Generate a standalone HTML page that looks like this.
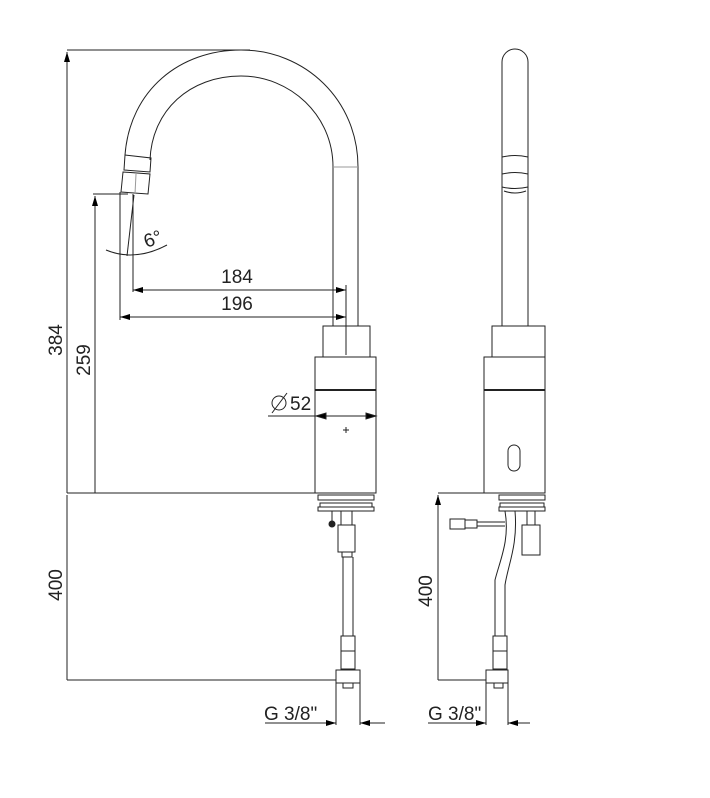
<!DOCTYPE html>
<html><head><style>
html,body{margin:0;padding:0;background:#fff;width:710px;height:798px;overflow:hidden}
text{font-family:"Liberation Sans",sans-serif;fill:#222}
</style></head><body>
<svg width="710" height="798" viewBox="0 0 710 798" xmlns="http://www.w3.org/2000/svg">
<defs>
<marker id="a" viewBox="0 0 10 6" refX="10" refY="3" markerWidth="10" markerHeight="6" orient="auto-start-reverse" markerUnits="userSpaceOnUse"><path d="M0,0 L10,3 L0,6 z" fill="#000"/></marker>
</defs>
<g fill="none" stroke="#222" stroke-width="1">
<!-- LEFT VIEW dims -->
<line x1="67" y1="50" x2="250" y2="50"/>
<line x1="67" y1="493" x2="67" y2="52" marker-end="url(#a)"/>
<line x1="67" y1="493" x2="320" y2="493"/>
<line x1="93" y1="194" x2="128" y2="194"/>
<line x1="95" y1="493" x2="95" y2="196" marker-end="url(#a)"/>
<line x1="67" y1="495" x2="67" y2="680"/>
<line x1="67" y1="680" x2="336" y2="680"/>
<!-- spout -->
<path d="M125,155 C130,90 180,50 241,50 C305,50 358,100 358,167 L358,326"/>
<path d="M150,160 C152,110 190,76 241,76 C290,76 333,115 333,167 L333,326"/>
<line x1="333" y1="167" x2="358" y2="167" stroke="#999"/>
<path d="M125,155 L151,158 L150,172 L124,170 z"/>
<path d="M123,172 L150,174 L148,194 L121,192 z"/>
<line x1="136" y1="174" x2="135" y2="194" stroke="#999"/>
<!-- 6 deg -->
<line x1="120" y1="192" x2="120" y2="320"/>
<line x1="133" y1="194" x2="133" y2="292"/>
<line x1="134" y1="195" x2="127" y2="256"/>
<path d="M106,250 Q135,262 167,245"/>
<!-- 184/196 -->
<line x1="133" y1="290" x2="346" y2="290" marker-start="url(#a)" marker-end="url(#a)"/>
<line x1="120" y1="317" x2="346" y2="317" marker-start="url(#a)" marker-end="url(#a)"/>
<line x1="346" y1="285" x2="346" y2="355"/>
<!-- body -->
<rect x="323" y="326" width="47" height="31"/>
<rect x="315" y="357" width="61" height="136"/>
<line x1="315" y1="390" x2="376" y2="390" stroke-width="2"/>
<line x1="268" y1="416" x2="376" y2="416"/>
<path d="M316,416 l10,-3 v6 z M376,416 l-10,-3 v6 z" fill="#000"/>
<line x1="343" y1="430" x2="349" y2="430"/><line x1="346" y1="427" x2="346" y2="433"/>
<rect x="318" y="495" width="56" height="5"/>
<rect x="320" y="503" width="52" height="4"/>
<rect x="318" y="507" width="56" height="4"/>
<line x1="332" y1="511" x2="332" y2="522"/><circle cx="332" cy="524" r="3" fill="#222"/>
<line x1="341" y1="511" x2="341" y2="525"/><line x1="352" y1="511" x2="352" y2="525"/>
<rect x="338" y="525" width="17" height="27"/>
<rect x="342" y="552" width="10" height="5"/>
<line x1="343" y1="557" x2="343" y2="636"/><line x1="353" y1="557" x2="353" y2="636"/>
<rect x="341" y="636" width="14" height="15"/>
<rect x="341" y="651" width="14" height="18"/>
<rect x="336" y="670" width="24" height="13"/>
<rect x="343" y="683" width="10" height="5"/>
<line x1="336" y1="683" x2="336" y2="725"/><line x1="360" y1="683" x2="360" y2="725"/>
<line x1="265" y1="723" x2="336" y2="723" marker-end="url(#a)"/>
<line x1="385" y1="723" x2="360" y2="723" marker-end="url(#a)"/>
<!-- RIGHT VIEW -->
<path d="M502,326 L502,62 A13,13 0 0 1 528,62 L528,326"/>
<path d="M502,157 Q515,154 528,157 M502,174 Q515,171 528,174 M502,187 Q515,190 528,187 M504,191 Q515,195 526,191"/>
<rect x="492" y="326" width="53" height="31"/>
<rect x="484" y="357" width="61" height="136"/>
<line x1="484" y1="390" x2="545" y2="390" stroke-width="2"/>
<rect x="508" y="445" width="12" height="26" rx="6"/>
<line x1="438" y1="493" x2="484" y2="493"/>
<line x1="438" y1="680" x2="486" y2="680"/>
<line x1="438" y1="680" x2="438" y2="495" marker-end="url(#a)"/>
<rect x="499" y="495" width="46" height="5"/>
<rect x="500" y="503" width="44" height="4"/>
<rect x="499" y="507" width="46" height="4"/>
<path d="M505,511 C510,540 500,560 495,580 L495,636 M515,511 C518,545 508,565 505,585 L505,636"/>
<rect x="450" y="519" width="15" height="10"/><rect x="465" y="520" width="12" height="8"/>
<line x1="477" y1="522" x2="505" y2="522"/><line x1="477" y1="526" x2="505" y2="526"/>
<rect x="522" y="525" width="18" height="30"/>
<rect x="527" y="511" width="8" height="14"/>
<rect x="493" y="636" width="14" height="15"/>
<rect x="493" y="651" width="14" height="18"/>
<rect x="486" y="670" width="22" height="13"/>
<rect x="494" y="683" width="9" height="5"/>
<line x1="486" y1="683" x2="486" y2="725"/><line x1="508" y1="683" x2="508" y2="725"/>
<line x1="428" y1="723" x2="486" y2="723" marker-end="url(#a)"/>
<line x1="530" y1="723" x2="508" y2="723" marker-end="url(#a)"/>
</g>
<g font-size="19">
<text x="237" y="283" text-anchor="middle">184</text>
<text x="237" y="310" text-anchor="middle">196</text>
<text x="144" y="246" transform="rotate(-20 151 240)">6°</text>
<text x="290" y="410">52</text>
<text x="62" y="340" text-anchor="middle" transform="rotate(-90 62 340)">384</text>
<text x="90" y="360" text-anchor="middle" transform="rotate(-90 90 360)">259</text>
<text x="62" y="585" text-anchor="middle" transform="rotate(-90 62 585)">400</text>
<text x="432" y="591" text-anchor="middle" transform="rotate(-90 432 591)">400</text>
<text x="264" y="720">G 3/8"</text>
<text x="428" y="720">G 3/8"</text>
</g>
<g fill="none" stroke="#222"><circle cx="279" cy="403" r="7"/><line x1="272" y1="413" x2="287" y2="393"/></g>
</svg>
</body></html>
